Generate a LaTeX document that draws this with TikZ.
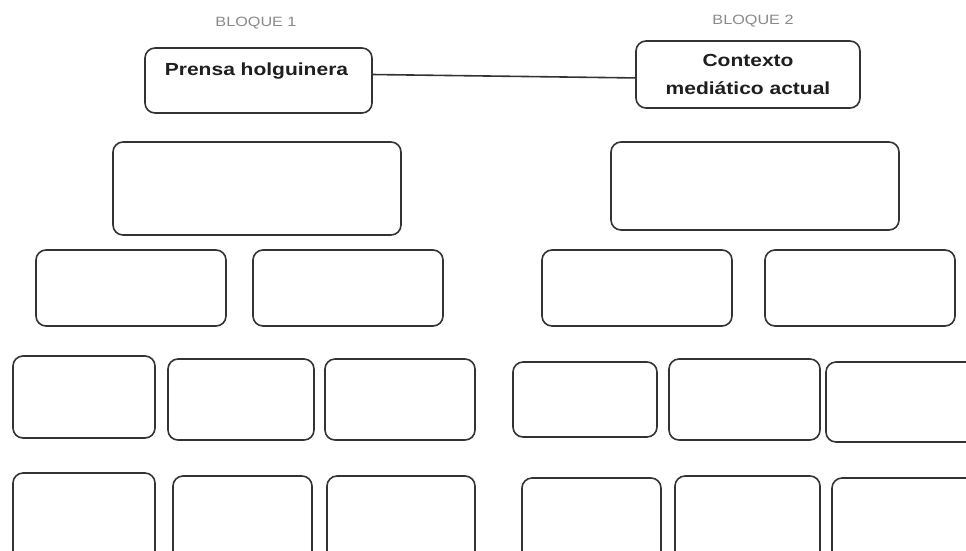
\documentclass[tikz,border=0pt]{standalone}
\usepackage{fontspec}
\setmainfont{Liberation Sans}
\newfontfamily\stretchfont[FakeStretch=1.2]{Liberation Sans}
\usetikzlibrary{calc}
\definecolor{edge}{HTML}{333333}
\definecolor{ink}{HTML}{1E1E1E}
\definecolor{graytxt}{HTML}{8A8A8A}
\tikzset{
  box/.style={draw=edge, line width=1.6pt, rounded corners=10pt, fill=white, inner sep=0pt},
  boxtext/.style={font=\stretchfont\bfseries\fontsize{17.5}{28}\selectfont, text=ink, inner sep=0pt},
  blocktext/.style={font=\stretchfont\fontsize{13.5}{16}\selectfont, text=graytxt, inner sep=0pt},
  link/.style={draw=edge, line width=1.6pt}
}
\newcommand\bx[5]{\node[box, minimum width={#4-#2}, minimum height={#5-#3}] (#1) at ({(#2+#4)/2},{(#3+#5)/2}) {};}
\begin{document}
\begin{tikzpicture}[x=1pt,y=-1pt]
\useasboundingbox (0,0) rectangle (966,550);
\clip (0,0) rectangle (966,550);
% labels
\node[blocktext] (b1) at (256,23) {BLOQUE 1};
\node[blocktext] (b2) at (753,21) {BLOQUE 2};
% top boxes
\bx{prensa}{145}{48}{372}{113}
\node[boxtext, anchor=base] (prensatxt) at ($(prensa.north)+(-2,28)$) {Prensa holguinera};
\node[box, minimum width=224, minimum height=67, align=center, font=\stretchfont\bfseries\fontsize{17.5}{28}\selectfont, text=ink] (ctx) at (748,74.5) {Contexto\\mediático actual};
\draw[link] ($(prensa.north east)!0.41!(prensa.south east)$) -- ($(ctx.north west)!0.55!(ctx.south west)$);
% row 2
\bx{l1}{113}{142}{401}{235}
\bx{r1}{611}{142}{899}{230}
% row 3
\bx{l21}{36}{250}{226}{326}
\bx{l22}{253}{250}{443}{326}
\bx{r21}{542}{250}{732}{326}
\bx{r22}{765}{250}{955}{326}
% row 4
\bx{l31}{13}{356}{155}{438}
\bx{l32}{168}{359}{314}{440}
\bx{l33}{325}{359}{475}{440}
\bx{r31}{513}{362}{657}{437}
\bx{r32}{669}{359}{820}{440}
\bx{r33}{826}{362}{995}{442}
% row 5
\bx{l41}{13}{473}{155}{580}
\bx{l42}{173}{476}{312}{580}
\bx{l43}{327}{476}{475}{580}
\bx{r41}{522}{478}{661}{580}
\bx{r42}{675}{476}{820}{580}
\bx{r43}{832}{478}{995}{580}
\end{tikzpicture}
\end{document}
